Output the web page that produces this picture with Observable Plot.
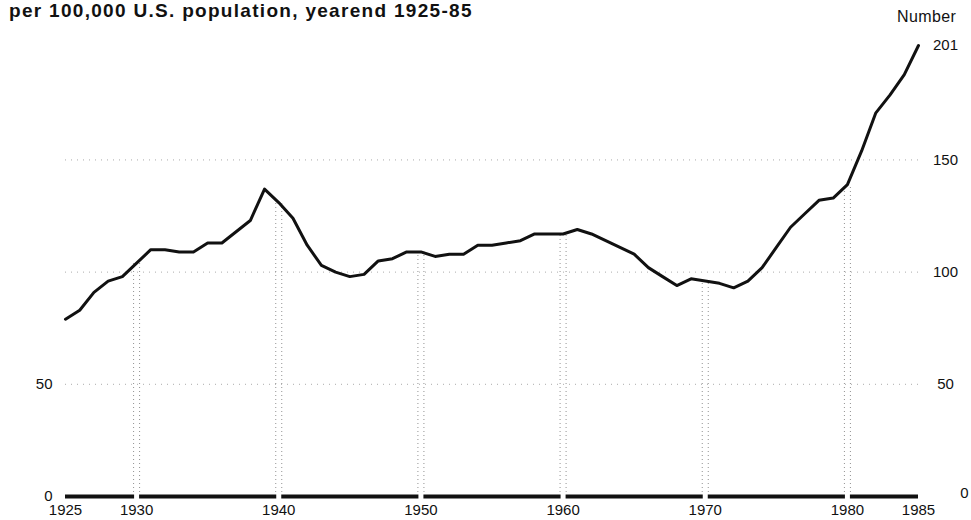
<!DOCTYPE html>
<html>
<head>
<meta charset="utf-8">
<script src="https://cdn.jsdelivr.net/npm/d3@7"></script>
<script src="https://cdn.jsdelivr.net/npm/@observablehq/plot@0.6"></script>
<style>
  body { margin: 0; background: #fff; font-family: "Liberation Sans", Arial, sans-serif; }
  #wrap { position: relative; width: 971px; height: 520px; overflow: hidden; }
  #title { position: absolute; left: 9px; top: 0px; font-size: 19px; letter-spacing: 1.3px; font-weight: bold; color: #111; white-space: nowrap; }
  #unit { position: absolute; left: 897px; top: 8px; font-size: 16px; letter-spacing: 0.4px; color: #111; }
  #chart { position: absolute; left: 0; top: 30px; }
</style>
</head>
<body>
<div id="wrap">
  <div id="title">per 100,000 U.S. population, yearend 1925-85</div>
  <div id="unit">Number</div>
  <div id="chart"></div>
</div>
<script>
const years = d3.range(1925, 1986);
const rates = [79, 83, 91, 96, 98, 104, 110, 110, 109, 109,
               113, 113, 118, 123, 137, 131, 124, 112, 103, 100,
               98, 99, 105, 106, 109, 109, 107, 108, 108, 112,
               112, 113, 114, 117, 117, 117, 119, 117, 114, 111,
               108, 102, 98, 94, 97, 96, 95, 93, 96, 102,
               111, 120, 126, 132, 133, 139, 154, 171, 179, 188,
               201];
const xTicks = [1925, 1930, 1940, 1950, 1960, 1970, 1980, 1985];
const gridYears = [1930, 1940, 1950, 1960, 1970, 1980];
const rightTicks = [50, 100, 150, 201];
const leftTicks = [0, 50];
const gridValues = [50, 100, 150];

const data = years.map((y, i) => ({year: y, rate: rates[i]}));
const gridData = gridYears.map(y => ({year: y, rate: rates[years.indexOf(y)]}));

const chart = Plot.plot({
  width: 971,
  height: 490,
  marginTop: 15,
  marginBottom: 24,
  marginLeft: 65,
  marginRight: 53,
  style: {fontFamily: "Liberation Sans, Arial, sans-serif", fontSize: "15px", color: "#111", background: "#fff"},
  x: {domain: [1925, 1985], axis: null},
  y: {domain: [0, 201], axis: null},
  marks: [
    Plot.ruleY(gridValues, {stroke: "#888", strokeWidth: 1, strokeDasharray: "1,5", strokeOpacity: 0.7}),
    Plot.ruleX(gridData, {x: "year", y1: 0, y2: "rate", dx: -3, stroke: "#777", strokeWidth: 1, strokeDasharray: "1,3", strokeOpacity: 0.8}),
    Plot.ruleX(gridData, {x: "year", y1: 0, y2: "rate", dx: 3, stroke: "#777", strokeWidth: 1, strokeDasharray: "1,3", strokeOpacity: 0.8}),
    Plot.ruleY([0], {stroke: "#111", strokeWidth: 4}),
    Plot.ruleX(gridYears, {y1: -2, y2: 2, stroke: "#fff", strokeWidth: 5}),
    Plot.line(data, {x: "year", y: "rate", stroke: "#111", strokeWidth: 3, strokeLinejoin: "round", strokeLinecap: "round"}),
    Plot.text(xTicks, {x: d => d, y: 0, text: d => String(d), dy: 14, fontSize: 15, fill: "#111"}),
    Plot.text(leftTicks, {x: 1925, y: d => d, text: d => String(d), textAnchor: "end", dx: -13, fontSize: 15, fill: "#111"}),
    Plot.text(rightTicks, {x: 1985, y: d => d, text: d => String(d), dx: 27, fontSize: 15, fill: "#111"}),
    Plot.text([0], {x: 1985, y: d => d, text: d => String(d), dx: 46, dy: -3, fontSize: 15, fill: "#111"})
  ]
});
document.getElementById("chart").appendChild(chart);
</script>
</body>
</html>
